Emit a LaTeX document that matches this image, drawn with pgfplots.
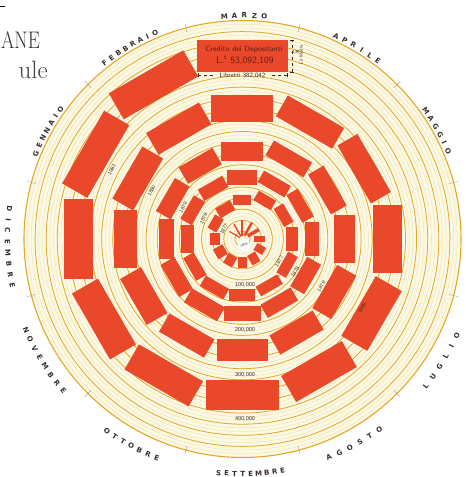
\documentclass[border=0pt]{standalone}
\usepackage{pgfplots}
\pgfplotsset{compat=1.18}
\usepackage{pgfplotstable}
\usepackage{fontspec}
\newfontfamily\labfont{DejaVu Sans}
\newfontfamily\smallfont{Liberation Sans}
\definecolor{cream}{RGB}{252,248,226}
\definecolor{thinl}{RGB}{233,222,172}
\definecolor{orl}{RGB}{231,166,38}
\definecolor{rectred}{RGB}{233,72,42}
\definecolor{txt}{RGB}{55,45,40}
\definecolor{boxtxt}{RGB}{95,28,18}

% Monthly data, Jan 1876 - Mar 1881 (pixel units of the reference):
% r = inner radius (libretti), h = radial height (lire media), w = tangential width
\pgfplotstableread{
yr m r h w
1876 1 3 12 1.2
1876 2 3 14 1.5
1876 3 3 16 2
1876 4 4 15 2.5
1876 5 6 13 3.5
1876 6 12 11 5.5
1876 7 15 10 8
1876 8 17 11 9
1876 9 18 11 9
1876 10 19 11 10
1876 11 20 11 11
1876 12 22 10 12
1877 1 26 10 15
1877 2 29 11 17
1877 3 34 10 18
1877 4 39 11 20
1877 5 42 11 21
1877 6 44 12 23
1877 7 46 11 24
1877 8 48 11 25
1877 9 50 12 26
1877 10 50 12 27
1877 11 49 12 26
1877 12 48 13 27
1878 1 51 13 27
1878 2 52 13 28
1878 3 54 15 30
1878 4 57 13 31
1878 5 60 13 32
1878 6 63 14 33
1878 7 65 16 34
1878 8 66 15 35
1878 9 67 15 37
1878 10 68 16 38
1878 11 68 16 37
1878 12 68 15 39
1879 1 72 17 38
1879 2 75 19 39
1879 3 78 19 42
1879 4 84 17 44
1879 5 89 18 46
1879 6 92 20 48
1879 7 95 22 50
1879 8 97 22 50
1879 9 100 22 51
1879 10 101 21 52
1879 11 102 24 53
1879 12 105 23 57
1880 1 109 24 60
1880 2 115 25 61
1880 3 117 27 62
1880 4 123 24 65
1880 5 129 23 67
1880 6 130 29 68
1880 7 134 30 69
1880 8 138 30 70
1880 9 141 30 73
1880 10 143 29 74
1880 11 145 30 76
1880 12 149 29 80
1881 1 155 29 84
1881 2 163 30 86
1881 3 167 32 91
}\spiral

\newcommand\monthcw[5]{% angle, pitch, radius, n, letters
  \foreach \l [count=\i from 0] in {#5}{%
    \pgfmathsetmacro\t{#1+(#4-1)/2*#2-\i*#2}%
    \node[font=\labfont\bfseries\fontsize{7}{8}\selectfont, text=txt, rotate=\t-90, anchor=base, inner sep=0pt] at (\t:#3) {\l};}}
\newcommand\monthccw[5]{%
  \foreach \l [count=\i from 0] in {#5}{%
    \pgfmathsetmacro\t{#1-(#4-1)/2*#2+\i*#2}%
    \node[font=\labfont\bfseries\fontsize{7}{8}\selectfont, text=txt, rotate=\t+90, anchor=base, inner sep=0pt] at (\t:#3) {\l};}}

\begin{document}
\begin{tikzpicture}[x=1pt,y=1pt]
% paper and background rings
\fill[white] (-242.5,-238) rectangle (223.5,239);
\fill[cream] (0,0) circle (218.5);
\foreach \k in {1,...,58} {\draw[thinl, line width=0.3pt] (0,0) circle ({218.5-\k*3.7});}
\foreach \k in {1,...,19} {\draw[orl, line width=0.75pt] (0,0) circle ({218.5-\k*11.1});}
\draw[orl, line width=1.1pt] (0,0) circle (218.5);
\foreach \a in {15,45,...,345} {\draw[gray!70, line width=0.4pt] (\a:214) -- (\a:223);}

\begin{axis}[anchor=origin, at={(0,0)}, x=1pt, y=1pt,
  xmin=-242.5, xmax=223.5, ymin=-238, ymax=239,
  hide axis, clip=false]
\pgfplotsinvokeforeach{0,...,62}{%
  \pgfplotstablegetelem{#1}{m}\of\spiral
  \pgfmathsetmacro\Ang{150-30*(\pgfplotsretval-1)}%
  \pgfplotstablegetelem{#1}{r}\of\spiral \let\Ri\pgfplotsretval
  \pgfplotstablegetelem{#1}{h}\of\spiral \let\Hh\pgfplotsretval
  \pgfplotstablegetelem{#1}{w}\of\spiral \let\Wd\pgfplotsretval
  \pgfmathsetmacro\ca{cos(\Ang)}\pgfmathsetmacro\sa{sin(\Ang)}%
  \pgfmathsetmacro\Ro{\Ri+\Hh}\pgfmathsetmacro\Hw{\Wd/2}%
  \pgfmathsetmacro\xa{\Ri*\ca+\Hw*\sa}\pgfmathsetmacro\ya{\Ri*\sa-\Hw*\ca}%
  \pgfmathsetmacro\xb{\Ri*\ca-\Hw*\sa}\pgfmathsetmacro\yb{\Ri*\sa+\Hw*\ca}%
  \pgfmathsetmacro\xc{\Ro*\ca-\Hw*\sa}\pgfmathsetmacro\yc{\Ro*\sa+\Hw*\ca}%
  \pgfmathsetmacro\xd{\Ro*\ca+\Hw*\sa}\pgfmathsetmacro\yd{\Ro*\sa-\Hw*\ca}%
  \addplot[fill=rectred, draw=none] coordinates {(\xa,\ya) (\xb,\yb) (\xc,\yc) (\xd,\yd)} -- cycle;
}
\end{axis}

% centre
\fill[white] (1.5,-6) circle (6);
\node[font=\smallfont\fontsize{3.5}{4}\selectfont, text=txt, rotate=20] at (1.5,-6) {1876};

% year labels
\foreach \yy/\rr in {1877/21,1878/44,1879/67,1880/103,1881/148}
  {\node[font=\smallfont\fontsize{5}{6}\selectfont, text=txt, rotate=62, inner sep=0pt] at (152:\rr) {\yy};}
\foreach \yy/\rr/\aa in {1877/43/-31.5,1878/62/-32,1879/92/-31,1880/138/-30}
  {\node[font=\smallfont\fontsize{5}{6}\selectfont, text=txt, rotate=\aa+90, inner sep=0pt] at (\aa:\rr) {\yy};}

% scale labels
\foreach \v/\yv in {100/-46,200/-91,300/-136,400/-180}
  {\node[font=\smallfont\fontsize{5.5}{6}\selectfont, text=txt, inner sep=0.5pt] at (2.5,\yv) {\v,000};}

% March 1881 annotation
\node[font=\sffamily\fontsize{7.5}{8}\selectfont, text=boxtxt] at (1.5,189.5) {Credito dei Depositanti};
\node[font=\sffamily\fontsize{9.5}{10}\selectfont, text=boxtxt] at (2.5,178.5) {L.\textsuperscript{t} 53,092,109};
\node[font=\sffamily\fontsize{6.5}{7}\selectfont, text=txt] at (0,163.5) {Libretti 382,042};
\draw[txt, line width=0.3pt, dashed] (-44.5,163.5) -- (-29.5,163.5);
\draw[txt, line width=0.3pt, dashed] (29.5,163.5) -- (44.5,163.5);
\draw[txt, line width=0.3pt] (-44.5,161.5) -- (-44.5,165.5) (44.5,161.5) -- (44.5,165.5);
\draw[txt, line width=0.3pt, dashed] (50,167) -- (50,199);
\draw[txt, line width=0.3pt] (48,167) -- (52,167) (48,199) -- (52,199);
\node[font=\sffamily\fontsize{4.5}{5}\selectfont, text=txt] at (53.5,187) {139};
\node[font=\sffamily\fontsize{4.5}{5}\selectfont, text=txt, rotate=90] at (58.5,184) {Lir Media};

% month labels
\monthcw{151}{2.17}{221}{7}{G,E,N,N,A,I,O}
\monthcw{120.5}{2.15}{221}{8}{F,E,B,B,R,A,I,O}
\monthcw{89.5}{2.56}{221}{5}{M,A,R,Z,O}
\monthcw{59}{2.5}{221}{6}{A,P,R,I,L,E}
\monthcw{29}{2.35}{221}{6}{M,A,G,G,I,O}
\monthccw{-31.5}{2.9}{237.5}{6}{L,U,G,L,I,O}
\monthccw{-61.4}{2.8}{237.5}{6}{A,G,O,S,T,O}
\monthccw{-88}{1.95}{237.5}{9}{S,E,T,T,E,M,B,R,E}
\monthccw{-118.3}{2.3}{237.5}{7}{O,T,T,O,B,R,E}
\monthccw{-148.4}{2.5}{237.5}{8}{N,O,V,E,M,B,R,E}
\monthccw{182}{2.7}{237.5}{8}{D,I,C,E,M,B,R,E}

% title fragments
\draw[black, line width=0.6pt] (-242.5,232.3) -- (-237.5,232.3);
\node[font=\fontsize{24}{26}\selectfont, xscale=0.8, anchor=base east, inner sep=0pt, text=black!80] at (-202.5,190.5) {ANE};
\node[font=\fontsize{25}{27}\selectfont, anchor=base east, inner sep=0pt, text=black!75] at (-194.5,160) {ule};

\pgfresetboundingbox
\path[use as bounding box] (-242.5,-238) rectangle (223.5,239);
\end{tikzpicture}
\end{document}
